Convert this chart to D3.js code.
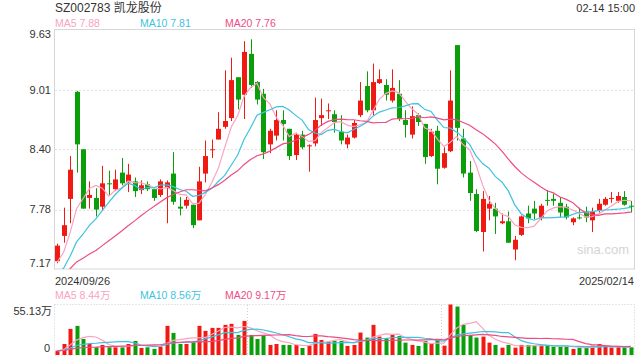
<!DOCTYPE html>
<html>
<head>
<meta charset="utf-8">
<script src="https://cdn.jsdelivr.net/npm/d3@7/dist/d3.min.js"></script>
<style>
  body { margin: 0; background: #fff; }
  svg text { font-family: Arial, "Liberation Sans", "Noto Sans CJK SC", sans-serif; }
</style>
</head>
<body>
<svg id="chart" width="640" height="360"></svg>
<script>
// trading days shown, 2024/09/26 .. 2025/02/14
var dates = [
  "2024-09-26","2024-09-27","2024-09-30",
  "2024-10-08","2024-10-09","2024-10-10","2024-10-11","2024-10-14","2024-10-15","2024-10-16","2024-10-17","2024-10-18",
  "2024-10-21","2024-10-22","2024-10-23","2024-10-24","2024-10-25","2024-10-28","2024-10-29","2024-10-30","2024-10-31",
  "2024-11-01","2024-11-04","2024-11-05","2024-11-06","2024-11-07","2024-11-08","2024-11-11","2024-11-12","2024-11-13",
  "2024-11-14","2024-11-15","2024-11-18","2024-11-19","2024-11-20","2024-11-21","2024-11-22","2024-11-25","2024-11-26",
  "2024-11-27","2024-11-28","2024-11-29",
  "2024-12-02","2024-12-03","2024-12-04","2024-12-05","2024-12-06","2024-12-09","2024-12-10","2024-12-11","2024-12-12",
  "2024-12-13","2024-12-16","2024-12-17","2024-12-18","2024-12-19","2024-12-20","2024-12-23","2024-12-24","2024-12-25",
  "2024-12-26","2024-12-27","2024-12-30","2024-12-31",
  "2025-01-02","2025-01-03","2025-01-06","2025-01-07","2025-01-08","2025-01-09","2025-01-10","2025-01-13","2025-01-14",
  "2025-01-15","2025-01-16","2025-01-17","2025-01-20","2025-01-21","2025-01-22","2025-01-23","2025-01-24","2025-01-27",
  "2025-02-05","2025-02-06","2025-02-07","2025-02-10","2025-02-11","2025-02-12","2025-02-13","2025-02-14"
];

var opens = [7.25,7.51,7.89,8.99,8.40,7.90,7.90,7.81,8.05,7.99, 8.16,8.06,8.07,7.98,8.04,7.99,7.93,8.00,8.15,7.81,
  7.82,7.83,7.67,8.15,8.39,8.50,8.63,8.72,9.14,8.96, 9.38,9.09,8.97,8.45,8.54,8.70,8.61,8.34,8.55,8.43,
  8.46,8.72,8.79,8.76,8.58,8.45,8.52,8.75,9.05,8.80, 9.08,9.06,8.90,8.97,8.70,8.55,8.75,8.66,8.33,8.59,
  8.21,8.38,9.47,8.51,8.16,7.94,7.55,7.79,7.79,7.64, 7.66,7.37,7.52,7.74,7.79,7.70,7.88,7.89,7.85,7.81,
  7.65,7.70,7.76,7.67,7.77,7.83,7.89,7.87,7.91,7.82];
var highs = [7.43,7.80,8.33,9.00,8.40,8.07,8.00,8.23,8.18,8.19, 8.31,8.25,8.11,8.08,8.07,7.99,8.09,8.08,8.37,7.91,
  7.91,7.83,8.22,8.49,8.50,8.78,9.21,9.34,9.14,9.51, 9.53,9.10,9.02,8.61,8.80,8.80,8.61,8.57,8.59,8.45,
  8.93,8.92,8.87,8.80,8.75,8.55,8.70,9.09,9.20,9.28, 9.22,9.12,9.22,9.11,8.80,8.84,8.77,8.66,8.61,8.64,
  8.42,9.21,9.47,8.61,8.28,7.99,7.97,7.92,7.85,7.74, 7.76,7.51,7.72,7.82,7.87,7.84,7.98,7.94,7.91,7.84,
  7.70,7.80,7.81,7.80,7.89,7.91,7.96,7.96,7.97,7.87];
var lows = [7.23,7.44,7.64,8.16,7.79,7.79,7.71,7.77,7.93,7.97, 8.03,7.96,7.91,7.94,7.97,7.87,7.91,7.64,7.83,7.72,
  7.79,7.59,7.67,8.06,8.31,8.50,8.61,8.69,8.81,8.71, 9.03,8.86,8.30,8.36,8.49,8.49,8.29,8.29,8.40,8.17,
  8.43,8.64,8.71,8.57,8.45,8.41,8.51,8.73,8.78,8.75, 9.07,8.90,8.88,8.69,8.52,8.51,8.64,8.25,8.32,8.04,
  8.20,8.37,8.49,8.11,7.87,7.55,7.35,7.67,7.53,7.63, 7.44,7.26,7.51,7.64,7.68,7.67,7.82,7.82,7.70,7.68,
  7.62,7.68,7.65,7.55,7.75,7.82,7.85,7.85,7.82,7.75];
var closes = [7.41,7.62,8.19,8.45,7.79,7.93,7.78,8.05,8.04,8.09, 8.05,8.14,7.97,8.03,7.99,7.90,8.07,8.06,7.86,7.79,
  7.88,7.62,8.07,8.33,8.40,8.61,8.69,9.11,8.91,9.40, 9.06,8.91,8.37,8.59,8.70,8.66,8.33,8.55,8.42,8.44,
  8.70,8.75,8.80,8.68,8.49,8.52,8.67,8.90,8.80,9.09, 9.12,8.96,9.03,8.71,8.65,8.74,8.68,8.32,8.58,8.20,
  8.36,8.90,8.62,8.15,7.95,7.56,7.89,7.84,7.71,7.66, 7.44,7.47,7.71,7.69,7.74,7.82,7.87,7.87,7.75,7.70,
  7.69,7.69,7.70,7.76,7.84,7.89,7.90,7.92,7.83,7.81];
// volume, in 万 shares
var volumes = [4.7,12.0,28.5,31.8,17.5,12.0,8.4,11.0,8.4,8.4, 8.4,12.0,15.3,7.7,8.4,6.6,9.1,31.8,24.1,12.0,
  12.0,13.9,31.8,26.3,29.6,29.6,32.9,34.0,21.9,37.2, 21.9,17.5,21.9,11.0,12.0,11.0,11.0,11.0,7.7,10.2,
  23.0,16.4,14.6,15.3,15.3,9.9,11.0,24.5,19.0,32.9, 20.1,18.3,21.9,20.8,13.5,11.0,9.9,15.3,12.8,16.4,
  10.2,55.13,52.9,32.9,21.9,19.0,20.1,13.5,11.0,8.0, 11.0,8.0,11.0,11.0,10.2,10.2,11.0,9.1,9.1,9.1,
  6.6,7.7,7.7,10.2,12.0,9.1,8.0,8.4,8.4,8.4];

// days before the window, only used to seed the moving averages
var prevCloses = [7.08,7.05,7.06,7.03,7.07,7.04,7.06,7.05,7.08,7.04,7.05,6.98,6.97,7.00,7.01,7.12,7.18,7.22,7.28];
var prevVolumes = [4.3,4.8,4.1,4.6,4.4,5.0,4.2,4.5,4.7,4.0,4.6,4.3,4.9,4.4,4.2,4.8,4.5,4.6,4.4];

var priceTicks = [9.63, 9.01, 8.40, 7.78, 7.17];
var volTicks = ["55.13万", "0"];
var volMax = 55.13;
var dateLabels = ["2024/09/26", "2025/02/14"];
var maPeriods = [5, 10, 20];
var maLabels = ["MA5 7.88", "MA10 7.81", "MA20 7.76"];
var volMaLabels = ["MA5 8.44万", "MA10 8.56万", "MA20 9.17万"];
var title = "SZ002783 凯龙股份";
var timeStamp = "02-14 15:00";

var UP = "#f01a12", DOWN = "#0a9f0a";
var maColors = ["#fba2c2", "#3ec3df", "#ee4c84"];

function movingAvg(prev, vals, n) {
  var all = prev.concat(vals), off = prev.length;
  return vals.map(function (v, i) {
    var s = 0;
    for (var k = off + i - n + 1; k <= off + i; k++) s += all[k];
    return s / n;
  });
}

var svg = d3.select("#chart");
var left = 54, right = 634;

var x = d3.scaleBand().domain(dates).range([left, right]);
var cx = function (d) { return x(d) + x.bandwidth() / 2; };
var y = d3.scaleLinear().domain([7.17, 9.63]).range([269, 29.5]);
var vy = d3.scaleLinear().domain([0, volMax]).range([355, 304.5]);

// headings
svg.append("text").attr("x", 55).attr("y", 12).attr("font-size", 12).attr("fill", "#333").text(title);
svg.append("text").attr("x", 635).attr("y", 12).attr("font-size", 11).attr("fill", "#333")
  .attr("text-anchor", "end").text(timeStamp);

var labelX = [55, 140, 225];
maLabels.forEach(function (t, i) {
  svg.append("text").attr("x", labelX[i]).attr("y", 27).attr("font-size", 10.5)
    .attr("fill", maColors[i]).text(t);
});

// price panel frame and grid
svg.append("rect").attr("x", left + 0.5).attr("y", 29.5).attr("width", right - left).attr("height", 239.5)
  .attr("fill", "none").attr("stroke", "#d6d6d6");

priceTicks.forEach(function (t, i) {
  var py = y(t);
  if (i > 0 && i < priceTicks.length - 1) {
    svg.append("line").attr("x1", left + 1).attr("x2", right).attr("y1", Math.round(py) + 0.5).attr("y2", Math.round(py) + 0.5)
      .attr("stroke", "#e2e2e2").attr("stroke-dasharray", "2,2");
  }
  var ly = i === 0 ? py + 5 : (i === priceTicks.length - 1 ? py - 6 : py);
  svg.append("text").attr("x", 51).attr("y", ly).attr("dy", "0.35em").attr("font-size", 11)
    .attr("fill", "#333").attr("text-anchor", "end").text(d3.format(".2f")(t));
});

svg.append("text").attr("x", 603).attr("y", 254).attr("font-size", 13).attr("fill", "#d4d4d4")
  .attr("text-anchor", "middle").text("sina.com");

svg.append("clipPath").attr("id", "clipPrice").append("rect")
  .attr("x", left + 1).attr("y", 30).attr("width", right - left - 1).attr("height", 239);
svg.append("clipPath").attr("id", "clipVol").append("rect")
  .attr("x", left + 1).attr("y", 304).attr("width", right - left - 1).attr("height", 51);

var candles = dates.map(function (d, i) {
  return { date: d, o: opens[i], h: highs[i], l: lows[i], c: closes[i], v: volumes[i] };
});
var col = function (d) { return d.c >= d.o ? UP : DOWN; };

var price = svg.append("g").attr("clip-path", "url(#clipPrice)");

price.selectAll(".wick").data(candles).enter().append("line")
  .attr("x1", function (d) { return Math.round(cx(d.date)) + 0.5; })
  .attr("x2", function (d) { return Math.round(cx(d.date)) + 0.5; })
  .attr("y1", function (d) { return y(d.h); })
  .attr("y2", function (d) { return y(d.l); })
  .attr("stroke", col);

price.selectAll(".body").data(candles).enter().append("rect")
  .attr("x", function (d) { return Math.round(cx(d.date)) - 2; })
  .attr("width", 5)
  .attr("y", function (d) { return y(Math.max(d.o, d.c)); })
  .attr("height", function (d) { return Math.max(1, Math.abs(y(d.o) - y(d.c))); })
  .attr("fill", col);

var line = d3.line().x(function (d, i) { return cx(dates[i]); }).y(function (d) { return y(d); });
maPeriods.forEach(function (n, k) {
  price.append("path").datum(movingAvg(prevCloses, closes, n))
    .attr("d", line).attr("fill", "none").attr("stroke", maColors[k]).attr("stroke-width", 1.2);
});

// date labels
svg.append("text").attr("x", 55).attr("y", 285).attr("font-size", 11).attr("fill", "#333").text(dateLabels[0]);
svg.append("text").attr("x", 634).attr("y", 285).attr("font-size", 11).attr("fill", "#333")
  .attr("text-anchor", "end").text(dateLabels[1]);

// volume panel
volMaLabels.forEach(function (t, i) {
  svg.append("text").attr("x", labelX[i]).attr("y", 299).attr("font-size", 10.5)
    .attr("fill", maColors[i]).text(t);
});
svg.append("rect").attr("x", left + 0.5).attr("y", 304.5).attr("width", right - left).attr("height", 50.5)
  .attr("fill", "none").attr("stroke", "#cfcfcf").attr("stroke-dasharray", "1,2");
[30, 60].forEach(function (k) {
  var vx = Math.round(x(dates[k])) + 0.5;
  svg.append("line").attr("x1", vx).attr("x2", vx).attr("y1", 305).attr("y2", 355)
    .attr("stroke", "#cfcfcf").attr("stroke-dasharray", "1,2");
});
svg.append("text").attr("x", 52).attr("y", 315).attr("font-size", 11).attr("fill", "#333")
  .attr("text-anchor", "end").text(volTicks[0]);
svg.append("text").attr("x", 50).attr("y", 352).attr("font-size", 11).attr("fill", "#333")
  .attr("text-anchor", "end").text(volTicks[1]);

var vol = svg.append("g").attr("clip-path", "url(#clipVol)");
vol.selectAll(".vbar").data(candles).enter().append("rect")
  .attr("x", function (d) { return Math.round(cx(d.date)) - 1.5; })
  .attr("width", 4)
  .attr("y", function (d) { return vy(d.v); })
  .attr("height", function (d) { return vy(0) - vy(d.v); })
  .attr("fill", col);

var vline = d3.line().x(function (d, i) { return cx(dates[i]); }).y(function (d) { return vy(d); });
maPeriods.forEach(function (n, k) {
  vol.append("path").datum(movingAvg(prevVolumes, volumes, n))
    .attr("d", vline).attr("fill", "none").attr("stroke", maColors[k]).attr("stroke-width", 1.2);
});
</script>
</body>
</html>
